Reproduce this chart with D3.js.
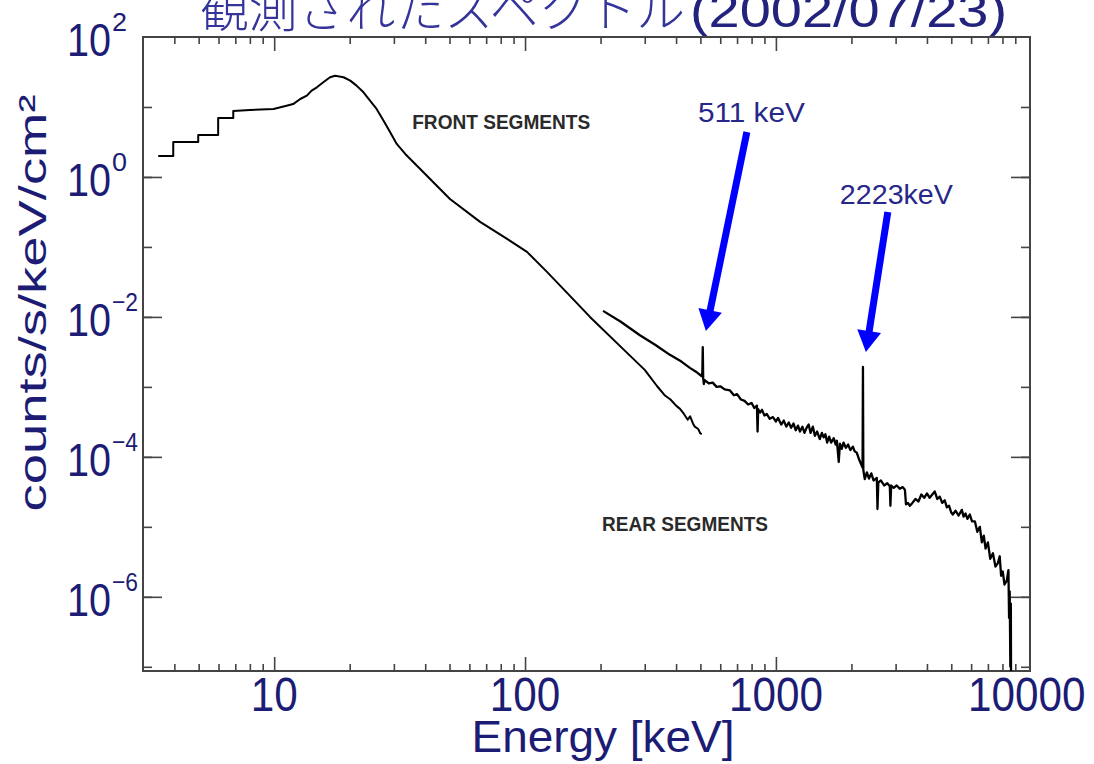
<!DOCTYPE html>
<html>
<head>
<meta charset="utf-8">
<script src="https://cdn.jsdelivr.net/npm/d3@7"></script>
<style>
body { margin: 0; background: #fff; }
svg { display: block; font-family: "Liberation Sans", Arial, sans-serif; }
</style>
</head>
<body>
<svg id="spectrum" width="1094" height="764"></svg>
<script>
// front segments spectrum (keV, counts/s/keV/cm2), steps at low energy are repeated energies
const frontE = [3.45, 3.96, 3.96, 4.98, 4.98, 5.98, 5.98, 6.87, 6.87, 8.0, 9.94, 11.2, 11.9, 12.7, 13.5, 14.1, 14.8, 15.7, 16.7, 17.5,
  18.9, 20.1, 21.3, 22.7, 24.1, 25.6, 27.3, 29.0, 30.8, 33.3, 38.2, 50.2, 66.2, 84.8, 101.8, 122.3, 151, 181.5, 245.6,
  300, 335.6, 360, 380, 400, 414.7, 430, 445, 455, 467, 475, 490, 500, 507];
const frontC = [2.0, 2.0, 3.16, 3.16, 3.98, 3.98, 6.97, 6.97, 8.77, 9.06, 9.36, 10.4, 11.0, 13.0, 14.5, 17.1, 19.1, 22.5, 26.6, 28.0,
  26.6, 23.8, 20.2, 16.2, 12.3, 9.36, 6.37, 4.35, 2.96, 2.13, 1.30, 0.485, 0.228, 0.130, 0.085, 0.044, 0.020, 0.0100, 3.49e-3,
  1.75e-3, 1.03e-3, 7.6e-4, 6.6e-4, 5.4e-4, 4.85e-4, 4.1e-4, 3.4e-4, 3.8e-4, 3.0e-4, 2.7e-4, 2.5e-4, 2.15e-4, 2.13e-4];

// rear segments spectrum
const rearE = [204.6, 240, 287, 330, 378, 420, 454, 480, 498, 505, 509, 511, 513, 516, 520, 540, 560, 580, 600, 625, 656,
  680, 700, 725, 750, 775, 800, 820, 840, 845, 850, 865, 880, 900, 920, 945, 973, 1000, 1020, 1050, 1075, 1100, 1125,
  1150, 1175, 1200, 1225, 1247, 1275, 1300, 1325, 1350, 1375, 1404, 1430, 1460, 1496, 1525, 1550, 1575, 1600, 1630,
  1660, 1700, 1730, 1750, 1780, 1800, 1830, 1860, 1900, 1940, 1980, 2027, 2060, 2100, 2150, 2202, 2215, 2223, 2231,
  2260, 2305, 2350, 2400, 2450, 2525, 2540, 2560, 2620, 2700, 2780, 2845, 2860, 2880, 2950, 3030, 3118, 3200, 3267,
  3300, 3360, 3420, 3500, 3600, 3700, 3800, 3900, 4000, 4100, 4200, 4295, 4400, 4500, 4600, 4710, 4800, 4900, 5000,
  5070, 5200, 5350, 5510, 5600, 5700, 5800, 5930, 6050, 6210, 6350, 6500, 6620, 6740, 6850, 7000, 7150, 7330, 7500,
  7660, 7800, 7900, 8020, 8150, 8320, 8450, 8500, 8550, 8600, 8640, 8680];
const rearC = [0.0122, 8.6e-3, 5.46e-3, 4.0e-3, 2.87e-3, 2.3e-3, 1.87e-3, 1.65e-3, 1.48e-3, 1.42e-3, 1.6e-3, 3.7e-3, 1.35e-3,
  1.1e-3, 1.25e-3, 1.12e-3, 1.15e-3, 1.0e-3, 1.02e-3, 9.2e-4, 8.9e-4,
  7.6e-4, 7.9e-4, 6.6e-4, 6.3e-4, 5.6e-4, 5.9e-4, 5.0e-4, 5.4e-4, 2.3e-4, 4.8e-4, 4.3e-4, 4.7e-4, 3.9e-4, 4.1e-4,
  3.5e-4, 3.7e-4, 3.2e-4, 3.6e-4, 2.9e-4, 3.3e-4, 2.7e-4, 3.1e-4,
  2.6e-4, 3.0e-4, 2.4e-4, 2.8e-4, 2.3e-4, 2.7e-4, 2.2e-4, 2.6e-4, 2.9e-4, 2.2e-4, 2.7e-4, 2.0e-4, 2.3e-4, 1.8e-4,
  2.2e-4, 1.9e-4, 2.1e-4, 1.6e-4, 1.95e-4,
  1.6e-4, 1.85e-4, 1.5e-4, 1.7e-4, 8.5e-5, 1.55e-4, 1.3e-4, 1.6e-4, 1.35e-4, 1.5e-4, 1.25e-4, 1.4e-4, 1.2e-4, 1.15e-4,
  9.0e-5, 7.4e-5, 7.0e-5, 1.93e-3, 6.5e-5,
  4.8e-5, 6.0e-5, 4.9e-5, 5.8e-5, 4.6e-5, 5.0e-5, 1.8e-5, 4.3e-5, 4.6e-5, 3.9e-5, 4.2e-5, 3.8e-5, 2.0e-5, 3.9e-5,
  3.6e-5, 3.9e-5, 3.5e-5, 3.7e-5, 3.4e-5,
  2.1e-5, 2.2e-5, 2.0e-5, 2.2e-5, 2.5e-5, 2.3e-5, 2.9e-5, 2.6e-5, 3.0e-5, 2.6e-5, 2.9e-5, 3.2e-5, 2.5e-5, 2.7e-5,
  2.2e-5, 2.4e-5, 1.9e-5, 2.0e-5, 1.6e-5,
  1.5e-5, 1.7e-5, 1.45e-5, 1.75e-5, 1.4e-5, 1.55e-5, 1.3e-5, 1.5e-5, 1.2e-5, 1.2e-5, 8.5e-6, 1.0e-5, 6.0e-6, 7.5e-6,
  4.9e-6, 6.0e-6, 3.5e-6, 4.2e-6, 2.7e-6,
  3.0e-6, 3.8e-6, 2.0e-6, 2.3e-6, 1.5e-6, 1.7e-6, 2.4e-6, 5e-7, 1.2e-6, 1e-7, 8e-7, 1e-9];

const xTickValues = [10, 100, 1000, 10000];
const xTickLabels = ['10', '100', '1000', '10000'];
const yTickExps = [2, 0, -2, -4, -6];
const yTickSups = ['2', '0', '\u22122', '\u22124', '\u22126'];

const noteTexts = ['FRONT SEGMENTS', 'REAR SEGMENTS', '511 keV', '2223keV'];
const noteE = [35.5, 202.7, 488.7, 1799];
const noteC = [4.85, 8.77e-6, 6.1, 0.411];

const arrowFromE = [766, 2793];
const arrowFromC = [4.39, 0.316];
const arrowToE = [526, 2284];
const arrowToC = [6.3e-3, 3.16e-3];

const svg = d3.select('#spectrum');
const width = +svg.attr('width');
const height = +svg.attr('height');
const margin = { top: 37, right: 64, bottom: 93, left: 143 };
const innerWidth = width - margin.left - margin.right;
const innerHeight = height - margin.top - margin.bottom;
const navy = '#1c1c74';

const x = d3.scaleLog().domain([3, 10300]).range([0, innerWidth]);
const y = d3.scaleLog().domain([Math.pow(10, -7.06), 100]).range([innerHeight, 0]);

// title, top is cut off in the original slide
svg.append('text').attr('x', 200).attr('y', 27)
    .attr('font-family', '"Noto Sans CJK JP", sans-serif').attr('font-weight', 300)
    .attr('font-size', 50).attr('fill', '#34349a')
    .attr('textLength', 485).attr('lengthAdjust', 'spacingAndGlyphs')
    .text('観測されたスペクトル');
svg.append('text').attr('x', 690).attr('y', 27)
    .attr('font-size', 48).attr('fill', '#23237e')
    .attr('textLength', 317).attr('lengthAdjust', 'spacingAndGlyphs')
    .text('(2002/07/23)');

const g = svg.append('g')
    .attr('transform', `translate(${margin.left},${margin.top})`);

g.append('clipPath').attr('id', 'plotClip')
    .append('rect').attr('width', innerWidth).attr('height', innerHeight);

// ticks on all four sides, pointing inward
const minorX = [];
[1, 10, 100, 1000].forEach(d => {
    for (let k = 2; k <= 9; k++) {
        const v = k * d;
        if (v > 3 && v < 10300) minorX.push(v);
    }
});
const majorX = [10, 100, 1000];
const decadesY = d3.range(-7, 2);

const tickColor = '#444';
g.append('g').attr('transform', `translate(0,${innerHeight})`)
    .call(d3.axisBottom(x).tickValues(minorX).tickSize(-7).tickFormat(''));
g.append('g').attr('transform', `translate(0,${innerHeight})`)
    .call(d3.axisBottom(x).tickValues(majorX).tickSize(-14).tickFormat(''));
g.append('g').call(d3.axisTop(x).tickValues(minorX).tickSize(-7).tickFormat(''));
g.append('g').call(d3.axisTop(x).tickValues(majorX).tickSize(-14).tickFormat(''));
g.append('g').call(d3.axisLeft(y).tickValues(decadesY.map(e => Math.pow(10, e)))
    .tickSize(-9).tickFormat(''));
g.append('g').call(d3.axisLeft(y).tickValues(decadesY.filter(e => e % 2 === 0).map(e => Math.pow(10, e)))
    .tickSize(-19).tickFormat(''));
g.append('g').attr('transform', `translate(${innerWidth},0)`)
    .call(d3.axisRight(y).tickValues(decadesY.map(e => Math.pow(10, e)))
    .tickSize(-9).tickFormat(''));
g.append('g').attr('transform', `translate(${innerWidth},0)`)
    .call(d3.axisRight(y).tickValues(decadesY.filter(e => e % 2 === 0).map(e => Math.pow(10, e)))
    .tickSize(-19).tickFormat(''));
g.selectAll('.domain').remove();
g.selectAll('.tick line').attr('stroke', tickColor).attr('stroke-width', 1.6);

g.append('rect').attr('width', innerWidth).attr('height', innerHeight)
    .attr('fill', 'none').attr('stroke', tickColor).attr('stroke-width', 2);

// tick labels
xTickValues.forEach((v, i) => {
    g.append('text').attr('x', x(v)).attr('y', innerHeight + 40)
        .attr('text-anchor', 'middle').attr('font-size', 48).attr('fill', navy)
        .attr('textLength', 23.5 * xTickLabels[i].length).attr('lengthAdjust', 'spacingAndGlyphs')
        .text(xTickLabels[i]);
});
yTickExps.forEach((e, i) => {
    const ty = y(Math.pow(10, e));
    g.append('text').attr('x', -32).attr('y', ty + 19)
        .attr('text-anchor', 'end').attr('font-size', 47).attr('fill', navy)
        .attr('textLength', 44).attr('lengthAdjust', 'spacingAndGlyphs')
        .text('10');
    g.append('text').attr('x', -31).attr('y', ty - 6)
        .attr('font-size', 26).attr('fill', navy)
        .attr('textLength', yTickSups[i].length === 1 ? 15 : 26).attr('lengthAdjust', 'spacingAndGlyphs')
        .text(yTickSups[i]);
});

// axis titles
svg.append('text').attr('x', margin.left + 460).attr('y', 752)
    .attr('text-anchor', 'middle').attr('font-size', 44).attr('fill', navy)
    .attr('textLength', 263).attr('lengthAdjust', 'spacingAndGlyphs')
    .text('Energy [keV]');
svg.append('text').attr('transform', 'translate(46,303) rotate(-90)')
    .attr('text-anchor', 'middle').attr('font-size', 38).attr('fill', navy)
    .attr('textLength', 417).attr('lengthAdjust', 'spacingAndGlyphs')
    .text('counts/s/keV/cm\u00b2');

// spectra
const line = d3.line()
    .x(d => x(d[0]))
    .y(d => y(d[1]));
const plot = g.append('g').attr('clip-path', 'url(#plotClip)');
[[frontE, frontC, 2], [rearE, rearC, 2.3]].forEach(s => {
    plot.append('path')
        .datum(s[0].map((e, i) => [e, s[1][i]]))
        .attr('fill', 'none').attr('stroke', '#000').attr('stroke-width', s[2])
        .attr('stroke-linejoin', 'round')
        .attr('d', line);
});

// segment labels and line annotations
noteTexts.forEach((t, i) => {
    const isLine = i >= 2;
    g.append('text').attr('x', x(noteE[i])).attr('y', y(noteC[i]))
        .attr('font-size', isLine ? 27 : 20)
        .attr('font-weight', isLine ? 'normal' : 'bold')
        .attr('fill', isLine ? '#27278a' : '#2a2a2a')
        .attr('textLength', [178, 166, 107, 113][i]).attr('lengthAdjust', 'spacingAndGlyphs')
        .text(t);
});

arrowFromE.forEach((e, i) => {
    const x0 = x(e), y0 = y(arrowFromC[i]);
    const x1 = x(arrowToE[i]), y1 = y(arrowToC[i]);
    const len = Math.hypot(x1 - x0, y1 - y0);
    const ux = (x1 - x0) / len, uy = (y1 - y0) / len;
    const hl = 21, hw = 12;
    const bx = x1 - ux * hl, by = y1 - uy * hl;
    g.append('line').attr('x1', x0).attr('y1', y0).attr('x2', bx + ux * 3).attr('y2', by + uy * 3)
        .attr('stroke', '#0000ff').attr('stroke-width', 7);
    g.append('path')
        .attr('d', `M${x1},${y1}L${bx - uy * hw},${by + ux * hw}L${bx + uy * hw},${by - ux * hw}Z`)
        .attr('fill', '#0000ff');
});
</script>
</body>
</html>
